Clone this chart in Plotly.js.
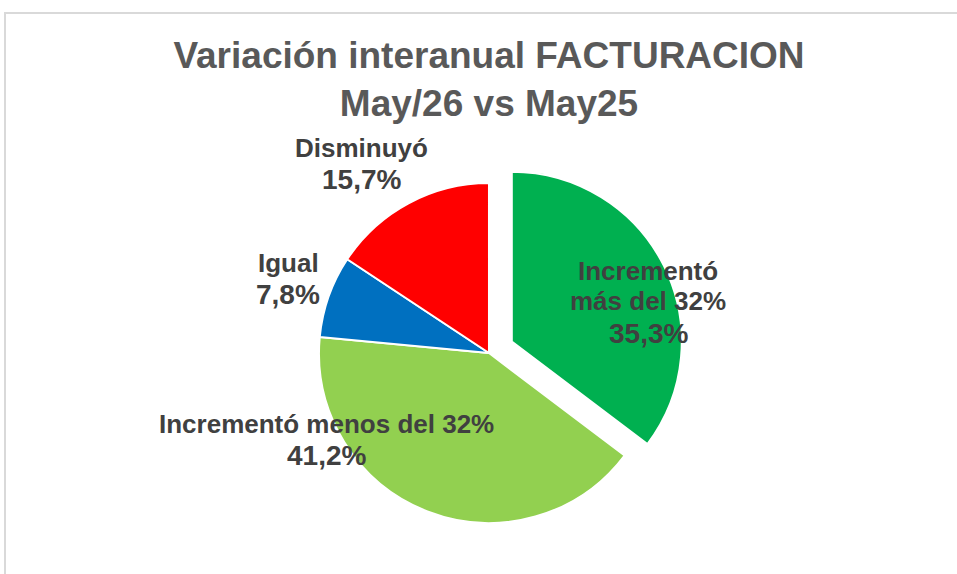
<!DOCTYPE html>
<html>
<head>
<meta charset="utf-8">
<script src="https://cdn.plot.ly/plotly-3.0.1.min.js"></script>
<style>html,body{margin:0;padding:0;background:#fff;}#chart{width:957px;height:574px;}</style>
</head>
<body>
<div id="chart"></div>
<script>
const categories = ["Incrementó<br>más del 32%", "Incrementó menos del 32%", "Igual", "Disminuyó"];
const values = [35.3, 41.2, 7.8, 15.7];
const colors = ["#00B050", "#92D050", "#0070C0", "#FF0000"];
const pulls = [0.15, 0, 0, 0];
const titleText = "<b>Variación interanual FACTURACION<br>May/26 vs May25</b>";

// label placement (pixel centre of the first line of each label) -- style only
const labelAnchors = [
  {x: 648, y: 271},
  {x: 326, y: 424},
  {x: 288, y: 263},
  {x: 361, y: 148}
];
const W = 957, H = 574;
const FONT = "Liberation Sans, Arial, sans-serif";
const TXT = "#404040";

const fmt = v => v.toFixed(1).replace(".", ",") + "%";

const annotations = [];
categories.forEach((cat, i) => {
  const lines = cat.split("<br>");
  const a = labelAnchors[i];
  lines.forEach((ln, j) => {
    annotations.push({
      xref: "paper", yref: "paper", x: a.x / W, y: 1 - (a.y + j * 30) / H,
      xanchor: "center", yanchor: "middle", showarrow: false,
      text: "<b>" + ln + "</b>",
      font: {family: FONT, size: 26, color: TXT}
    });
  });
  annotations.push({
    xref: "paper", yref: "paper", x: a.x / W, y: 1 - (a.y + lines.length * 31) / H,
    xanchor: "center", yanchor: "middle", showarrow: false,
    text: "<b>" + fmt(values[i]) + "</b>",
    font: {family: FONT, size: 28, color: TXT}
  });
});

const trace = {
  type: "pie",
  labels: categories,
  values: values,
  marker: {colors: colors, line: {color: "#ffffff", width: 2}},
  pull: pulls,
  sort: false,
  direction: "clockwise",
  rotation: 0,
  textinfo: "none",
  showlegend: false,
  hoverinfo: "label+percent",
  domain: {x: [0.3067, 0.7152], y: [0.0444, 0.7256]}
};

const layout = {
  width: W,
  height: H,
  margin: {l: 0, r: 0, t: 0, b: 0},
  paper_bgcolor: "#ffffff",
  separators: ",.",
  showlegend: false,
  title: {
    text: titleText,
    x: 489 / W,
    xanchor: "center",
    xref: "paper",
    y: 1 - 68 / H,
    yanchor: "top",
    yref: "container",
    font: {family: FONT, size: 37, color: "#595959"}
  },
  annotations: annotations,
  shapes: [{
    type: "rect", xref: "paper", yref: "paper",
    x0: 5 / W, x1: 1.02, y0: -0.02, y1: 1 - 13 / H,
    line: {color: "#d9d9d9", width: 2}, fillcolor: "rgba(0,0,0,0)", layer: "below"
  }]
};

Plotly.newPlot("chart", [trace], layout, {displayModeBar: false});
</script>
</body>
</html>
